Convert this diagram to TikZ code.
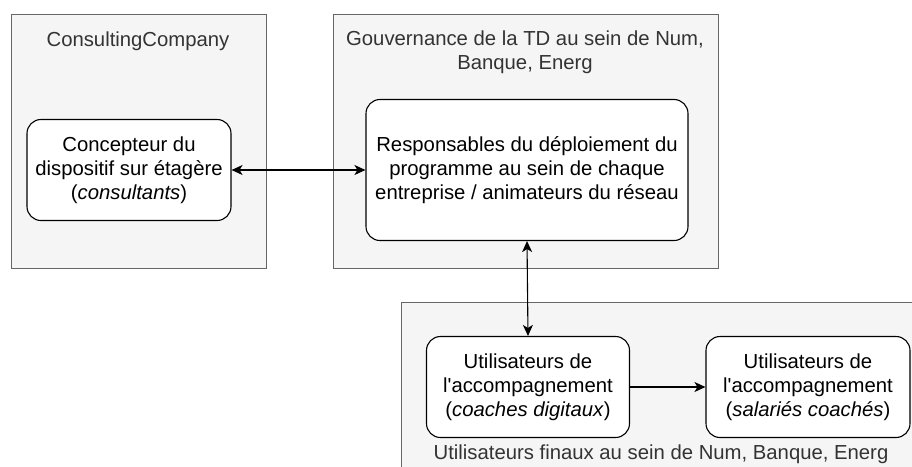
\documentclass[tikz,border=0pt]{standalone}
\usepackage{fontspec}
\setmainfont{Liberation Sans}
\usetikzlibrary{arrows.meta}

\definecolor{grpfill}{HTML}{F5F5F5}
\definecolor{grpline}{HTML}{666666}
\definecolor{grptext}{HTML}{333333}

\begin{document}
\begin{tikzpicture}[x=1pt,y=-1pt,
    grp/.style={fill=grpfill,draw=grpline,line width=0.9pt},
    grplabel/.style={text=grptext,font=\fontsize{20.3}{24}\selectfont,align=center},
    actor/.style={fill=white,draw=black,line width=1.1pt,rounded corners=14pt,
      font=\fontsize{20.3}{24}\selectfont,align=center,inner sep=0pt},
    link/.style={line width=1.1pt,-{Stealth[length=11pt,width=10pt,inset=3pt]}},
    bilink/.style={line width=1.1pt,{Stealth[length=11pt,width=10pt,inset=3pt]}-{Stealth[length=11pt,width=10pt,inset=3pt]}}]
  \clip (0,0) rectangle (912,466);
  % containers
  \draw[grp] (11,14) rectangle (266,268);
  \draw[grp] (333,14) rectangle (718,268);
  \draw[grp] (401,302) rectangle (930,480);
  \node[grplabel] (cctitle) at (138,41) {ConsultingCompany};
  \node[grplabel] (govtitle) at (525,52) {Gouvernance de la TD au sein de Num,\\Banque, Energ};
  \node[grplabel] (usrtitle) at (661,454) {Utilisateurs finaux au sein de Num, Banque, Energ};
  % actors
  \node[actor,minimum width=204pt,minimum height=101pt] (conc) at (129,170)
    {Concepteur du\\dispositif sur étagère\\(\textit{consultants})};
  \node[actor,minimum width=322pt,minimum height=141pt] (resp) at (527,170)
    {Responsables du déploiement du\\programme au sein de chaque\\entreprise / animateurs du réseau};
  \node[actor,minimum width=203pt,minimum height=101pt] (coach) at (528,387)
    {Utilisateurs de\\l\textquotesingle accompagnement\\(\textit{coaches digitaux})};
  \node[actor,minimum width=204pt,minimum height=101pt] (sal) at (808,387)
    {Utilisateurs de\\l\textquotesingle accompagnement\\(\textit{salariés coachés})};
  % links
  \draw[bilink] (conc) -- (resp);
  \draw[bilink] (resp.south) -- (coach.north);
  \draw[link] (coach) -- (sal);
\end{tikzpicture}
\end{document}
